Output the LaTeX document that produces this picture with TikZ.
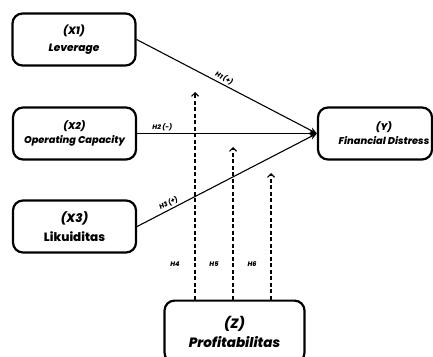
\documentclass[tikz,border=0pt]{standalone}
\usepackage{fontspec}
\setmainfont{Poppins}[BoldFont={Poppins ExtraBold}, BoldItalicFont={Poppins ExtraBold Italic}]
\usetikzlibrary{arrows.meta,calc}
\tikzset{
  varbox/.style={draw=black, line width=2.2pt, rounded corners=10pt, align=center, inner sep=0pt, font=\bfseries\itshape\fontsize{9.8}{14}\selectfont},
  vartext/.style={align=center, inner sep=0pt, font=\bfseries\itshape\fontsize{9.8}{14}\selectfont},
  rel/.style={line width=1.1pt, -{Stealth[length=7pt,width=6pt]}},
  mod/.style={line width=1.1pt, dash pattern=on 4pt off 2.5pt, -{Straight Barb[length=3.5pt,width=7pt,line width=1.1pt]}},
  hlab/.style={font=\bfseries\itshape\fontsize{6.5}{7}\selectfont, inner sep=1pt}
}
\begin{document}
\begin{tikzpicture}[x=1pt,y=-1pt]
\useasboundingbox (0,0) rectangle (433,356);
\clip (0,0) rectangle (433,356);
\node[varbox, minimum width=123pt, minimum height=52pt, font=\bfseries\itshape\fontsize{10.6}{17}\selectfont] (X1) at (74,39.5) {(X1)\\Leverage};
\node[varbox, minimum width=123pt, minimum height=52pt] (X2) at (74.5,133.5) {(X2)\\Operating Capacity};
\node[varbox, minimum width=123pt, minimum height=52pt, font=\bfseries\fontsize{12}{19}\selectfont] (X3) at (74.5,226.5) {\textit{(X3)}\\Likuiditas};
\node[varbox, minimum width=114pt, minimum height=52pt] (Y) at (375,133.5) {};
\node[vartext] (Yt) at (384,133.5) {(Y)\\Financial Distress};
\node[varbox, minimum width=140pt, minimum height=62pt, anchor=north, font=\bfseries\itshape\fontsize{13.5}{19}\selectfont] (Z) at (234.5,299.5) {(Z)\\Profitabilitas};
\draw[rel] (X1.east) -- node[hlab, pos=0.47, sloped, above=1pt] {H1 (+)} (Y.west);
\draw[rel] (X2.east) -- node[hlab, pos=0.14, above=1pt] {H2 (-)} (Y.west);
\draw[rel] (X3.east) -- node[hlab, pos=0.19, sloped, above=1pt] {H3 (+)} (Y.west);
\coordinate (t4) at (195,92);
\coordinate (t5) at (233,147);
\coordinate (t6) at (271,173);
\draw[mod] (Z.north -| t4) -- node[hlab, pos=0.17, xshift=-20pt] {H4} (t4);
\draw[mod] (Z.north -| t5) -- node[hlab, pos=0.23, xshift=-19pt] {H5} (t5);
\draw[mod] (Z.north -| t6) -- node[hlab, pos=0.278, xshift=-19pt] {H6} (t6);
\end{tikzpicture}
\end{document}
